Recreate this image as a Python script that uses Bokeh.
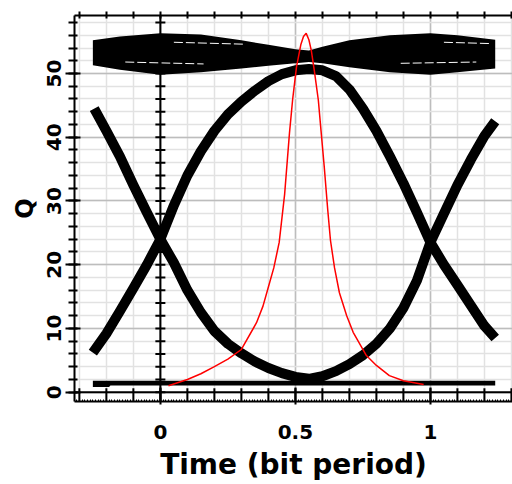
from bokeh.plotting import figure
from bokeh.models import FixedTicker, LinearAxis, Span, Range1d
from bokeh.embed import file_html
from bokeh.resources import INLINE

# ---------------- data ----------------
# x axis ticks (bit period)
x_tenth_ticks = [-0.3, -0.2, -0.1, 0.0, 0.1, 0.2, 0.3, 0.4, 0.5, 0.6, 0.7, 0.8, 0.9, 1.0, 1.1, 1.2, 1.3]
x_label_ticks = [0.0, 0.5, 1.0]
x_label_text = {0.0: "0", 0.5: "0.5", 1.0: "1"}
y_major_ticks = [0, 10, 20, 30, 40, 50]
y_minor_ticks = [-2, 0, 2, 4, 6, 8, 10, 12, 14, 16, 18, 20, 22, 24, 26, 28, 30, 32, 34, 36, 38,
                 40, 42, 44, 46, 48, 50, 52, 54, 56, 58]

# eye trace: falling-then-rising ("U") transition
u_time = [-0.245, -0.2, -0.15, -0.1, -0.05, 0.0, 0.05, 0.1, 0.15, 0.2, 0.25, 0.3, 0.35, 0.4,
          0.45, 0.5, 0.55, 0.6, 0.65, 0.7, 0.75, 0.8, 0.85, 0.9, 0.95, 1.0, 1.05, 1.1, 1.15,
          1.2, 1.24]
u_level = [44.5, 41.0, 37.0, 32.5, 28.2, 24.0, 20.3, 16.0, 12.5, 9.6, 7.6, 6.1, 4.8, 3.8,
           3.0, 2.4, 2.1, 2.5, 3.3, 4.4, 5.8, 7.6, 10.0, 13.2, 17.5, 23.5, 28.0, 32.5, 36.5,
           40.2, 42.5]

# eye trace: rising-then-falling ("arch") transition
arch_time = [-0.25, -0.2, -0.15, -0.1, -0.05, 0.0, 0.05, 0.1, 0.15, 0.2, 0.25, 0.3, 0.35, 0.4,
             0.45, 0.5, 0.55, 0.6, 0.65, 0.7, 0.75, 0.8, 0.85, 0.9, 0.95, 1.0, 1.05, 1.1,
             1.15, 1.2, 1.24]
arch_level = [6.2, 9.2, 12.7, 16.3, 20.0, 24.0, 29.3, 34.0, 37.8, 41.0, 43.6, 45.6, 47.3, 48.8,
              49.9, 50.5, 50.7, 50.5, 49.6, 47.5, 44.5, 41.0, 37.0, 32.8, 28.2, 23.5, 20.0,
              16.8, 13.6, 10.4, 8.5]

# "1" level band
one_time = [-0.25, -0.15, 0.0, 0.15, 0.3, 0.4, 0.5, 0.55, 0.6, 0.7, 0.85, 1.0, 1.1, 1.24]
one_upper = [55.2, 55.8, 56.3, 56.1, 55.2, 54.5, 53.8, 53.6, 54.2, 55.2, 56.0, 56.3, 56.0, 55.3]
one_lower = [51.3, 50.6, 49.8, 50.2, 50.8, 51.2, 51.6, 51.8, 51.6, 51.0, 50.2, 49.8, 50.2, 50.8]

# thin gaps between traces inside the "1" band
gap_a_time = [-0.13, 0.16]
gap_a_level = [51.8, 51.5]
gap_b_time = [0.05, 0.31]
gap_b_level = [54.9, 54.6]
gap_c_time = [0.89, 1.17]
gap_c_level = [51.6, 51.8]
gap_d_time = [1.05, 1.22]
gap_d_level = [54.9, 54.7]

# "0" level band
zero_time = [-0.25, -0.19, -0.185, 1.24]
zero_upper = [1.8, 1.8, 1.8, 1.8]
zero_lower = [0.8, 0.8, 1.05, 1.05]

# Q factor versus sampling time
q_time = [0.03, 0.1, 0.15, 0.2, 0.25, 0.3, 0.356, 0.38, 0.4, 0.42, 0.44, 0.46, 0.478, 0.49,
          0.504, 0.52, 0.53, 0.54, 0.55, 0.559, 0.57, 0.585, 0.595, 0.607, 0.62, 0.63, 0.645,
          0.663, 0.69, 0.714, 0.763, 0.8, 0.848, 0.9, 0.975]
q_value = [1.0, 2.0, 2.9, 4.0, 5.2, 6.7, 10.9, 13.5, 16.5, 19.5, 23.5, 31.0, 40.6, 46.0,
           51.0, 54.5, 55.8, 56.3, 55.3, 53.6, 50.5, 45.8, 41.0, 35.3, 28.5, 23.8, 19.5,
           15.6, 12.0, 9.4, 5.75, 4.2, 2.6, 1.8, 1.2]

# ---------------- figure ----------------
X0, X1 = -0.318, 1.304
Y0, Y1 = -1.46, 59.1
p = figure(width=512, height=484, output_backend="svg", toolbar_location=None,
           x_range=Range1d(X0, X1), y_range=Range1d(Y0, Y1),
           min_border_left=74, min_border_right=0, min_border_top=15, min_border_bottom=83)
p.outline_line_color = None
p.background_fill_color = "white"
p.border_fill_color = "white"

# bottom axis
xa = p.xaxis[0]
xa.ticker = FixedTicker(ticks=x_label_ticks,
                        minor_ticks=[round(-0.32 + 0.01 * i, 2) for i in range(0, 164)])
xa.major_label_overrides = x_label_text
xa.axis_line_width = 2
xa.major_tick_in = 14
xa.major_tick_out = 3
xa.major_tick_line_width = 2
xa.minor_tick_in = 2
xa.minor_tick_out = 0
xa.minor_tick_line_width = 1
xa.major_label_standoff = 20
xa.major_label_text_font = "DejaVu Sans"
xa.major_label_text_font_style = "bold"
xa.major_label_text_font_size = "20px"
xa.major_label_text_color = "black"
xa.axis_label = "Time (bit period)"
xa.axis_label_text_font = "DejaVu Sans"
xa.axis_label_text_font_style = "bold"
xa.axis_label_text_font_size = "28px"
xa.axis_label_standoff = 6
xa.axis_label_text_color = "black"

# left axis
ya = p.yaxis[0]
ya.ticker = FixedTicker(ticks=y_major_ticks, minor_ticks=y_minor_ticks)
ya.axis_line_width = 2
ya.major_tick_in = 6
ya.major_tick_out = 9
ya.major_tick_line_width = 2
ya.minor_tick_in = 3
ya.minor_tick_out = 6
ya.minor_tick_line_width = 2
ya.major_label_orientation = "vertical"
ya.major_label_standoff = 4
ya.major_label_text_font = "DejaVu Sans"
ya.major_label_text_font_style = "bold"
ya.major_label_text_font_size = "20px"
ya.major_label_text_color = "black"
ya.axis_label = "Q"
ya.axis_label_text_font = "DejaVu Sans"
ya.axis_label_text_font_style = "bold"
ya.axis_label_text_font_size = "24px"
ya.axis_label_standoff = 6
ya.axis_label_text_color = "black"

# top axis (ticks only)
top = LinearAxis(ticker=FixedTicker(ticks=x_tenth_ticks, minor_ticks=[]))
top.axis_line_width = 2
top.major_tick_in = 3
top.major_tick_out = 4
top.major_tick_line_width = 2
top.minor_tick_in = 0
top.minor_tick_out = 0
top.major_label_text_font_size = "1px"
top.major_label_text_color = None
top.major_label_standoff = 0
p.add_layout(top, "above")

# grids
p.xgrid.ticker = FixedTicker(ticks=x_label_ticks, minor_ticks=x_tenth_ticks)
p.xgrid.grid_line_color = "#bdbdbd"
p.xgrid.grid_line_width = 1.5
p.xgrid.minor_grid_line_color = "#e2e2e2"
p.xgrid.minor_grid_line_width = 1.5
p.ygrid.grid_line_color = "#bdbdbd"
p.ygrid.grid_line_width = 1.5
p.ygrid.minor_grid_line_color = "#e2e2e2"
p.ygrid.minor_grid_line_width = 1.5

# zero lines with ticks
p.add_layout(Span(location=0, dimension="height", line_color="black", line_width=2))
p.add_layout(Span(location=0, dimension="width", line_color="black", line_width=2))
p.scatter(x=[0.0] * len(y_minor_ticks), y=y_minor_ticks, marker="dash", size=10,
          line_color="black", line_width=2)
p.segment(x0=x_tenth_ticks, y0=[Y0] * len(x_tenth_ticks), x1=x_tenth_ticks,
          y1=[0.6] * len(x_tenth_ticks), line_color="black", line_width=2)

# eye diagram
p.varea(x=one_time, y1=one_lower, y2=one_upper, fill_color="black")
p.varea(x=zero_time, y1=zero_lower, y2=zero_upper, fill_color="black")
p.line(u_time, u_level, line_color="black", line_width=10, line_join="round")
p.line(arch_time, arch_level, line_color="black", line_width=10, line_join="round")
for gt, gl in [(gap_a_time, gap_a_level), (gap_b_time, gap_b_level),
               (gap_c_time, gap_c_level), (gap_d_time, gap_d_level)]:
    p.line(gt, gl, line_color="white", line_width=1, line_dash="9 3")

# Q curve
p.line(q_time, q_value, line_color="red", line_width=1.5)

open("out.html", "w").write(file_html(p, INLINE))
